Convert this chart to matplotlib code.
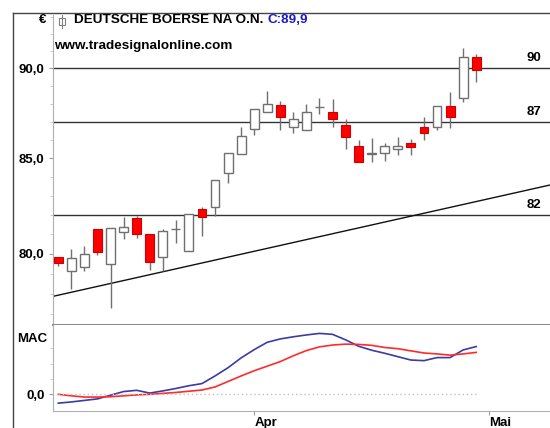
import matplotlib.pyplot as plt
from matplotlib.patches import Rectangle
from matplotlib.lines import Line2D
from matplotlib.ticker import FixedLocator, NullFormatter

plt.rcParams['font.family'] = ['Liberation Sans', 'DejaVu Sans']

# Daily candles, 13 Mar - 28 Apr 2017 (index = trading day)
days = list(range(33))
opens = [79.82, 79.14, 79.35, 81.25, 79.50, 81.11, 81.82, 80.99, 79.85, 81.27, 80.16,
         82.31, 82.40, 84.23, 85.23, 86.60, 87.52, 87.93, 86.72, 86.54, 87.83, 87.55,
         86.82, 85.68, 85.23, 85.27, 85.50, 85.81, 86.69, 86.69, 87.87, 88.30, 90.67]
highs = [79.85, 80.22, 80.39, 81.27, 81.30, 81.91, 81.94, 80.99, 81.25, 81.73, 82.03,
         82.42, 83.84, 85.27, 86.72, 87.72, 88.71, 88.17, 87.55, 87.97, 88.30, 88.26,
         87.13, 85.99, 86.09, 85.81, 86.17, 86.03, 87.28, 87.87, 88.64, 91.19, 90.84]
lows = [79.38, 78.22, 79.13, 79.93, 77.27, 80.74, 80.82, 79.18, 79.13, 80.53, 80.16,
        80.91, 81.94, 83.69, 85.23, 86.27, 87.52, 86.54, 86.39, 86.54, 87.41, 86.69,
        85.49, 84.82, 84.82, 84.85, 85.18, 85.18, 85.99, 86.54, 86.64, 88.11, 89.24]
closes = [79.52, 79.77, 79.97, 80.10, 81.30, 81.36, 81.01, 79.57, 81.16, 81.27, 82.03,
          81.91, 83.84, 85.27, 86.21, 87.72, 87.98, 87.24, 87.15, 87.55, 87.83, 87.13,
          86.14, 84.82, 85.30, 85.67, 85.67, 85.60, 86.36, 87.87, 87.28, 90.67, 89.90]

# MAC indicator (MACD line and signal line)
macd = [-0.29, -0.25, -0.20, -0.15, -0.03, 0.09, 0.13, 0.04, 0.11, 0.19, 0.28,
        0.35, 0.60, 0.87, 1.19, 1.46, 1.70, 1.81, 1.88, 1.94, 1.99, 1.96,
        1.78, 1.57, 1.44, 1.34, 1.23, 1.12, 1.10, 1.20, 1.20, 1.45, 1.56]
signal = [0.00, -0.05, -0.09, -0.09, -0.08, -0.05, -0.02, 0.00, 0.03, 0.06, 0.10,
          0.14, 0.24, 0.42, 0.60, 0.77, 0.92, 1.07, 1.26, 1.43, 1.55, 1.61,
          1.64, 1.63, 1.60, 1.53, 1.49, 1.42, 1.35, 1.32, 1.28, 1.32, 1.37]

# horizontal levels and trend line
levels = [90, 87, 82]
trend_x = [-0.5, 37.65]
trend_y = [77.85, 83.57]

month_ticks = [15, 33]
month_labels = ['Apr', 'Mai']

W, H = 550, 428
fig = plt.figure(figsize=(5.5, 4.28), dpi=100)
ax = fig.add_axes([53 / W, (H - 325) / H, (W - 53) / W, 310 / H])
ax2 = fig.add_axes([53 / W, (H - 411) / H, (W - 53) / W, 86 / H])

grey = '#9a9a9a'

# candles
for i in days:
    o, h, l, c = opens[i], highs[i], lows[i], closes[i]
    ax.vlines(i, l, h, color='#707070', lw=1, zorder=2)
    if c < o:
        ax.bar(i, o - c, bottom=c, width=0.68, color='#ff0000', edgecolor='#d00000', lw=0.8, zorder=3)
    else:
        ax.bar(i, c - o, bottom=o, width=0.68, color='white', edgecolor='#707070', lw=1, zorder=3)

for lv in levels:
    ax.axhline(lv, color='#333333', lw=1, zorder=1)
    ax.annotate(str(lv), xy=(0.982, lv), xycoords=('axes fraction', 'data'),
                xytext=(0, 3), textcoords='offset points', ha='right', va='bottom',
                fontsize=9.5, fontweight='bold')

ax.plot(trend_x, trend_y, color='#111111', lw=1.0, zorder=1)

ax.set_yscale('log')
ax.set_ylim(76.46, 93.10)
ax.set_xlim(-0.406, 37.65)
ax.yaxis.set_major_locator(FixedLocator([80, 85, 90]))
ax.yaxis.set_major_formatter(plt.FixedFormatter(['80,0', '85,0', '90,0']))
ax.yaxis.set_minor_locator(FixedLocator(list(range(77, 94))))
ax.yaxis.set_minor_formatter(NullFormatter())
ax.tick_params(axis='y', which='major', length=3, pad=3, color=grey, labelsize=9.5)
ax.tick_params(axis='y', which='minor', length=2, color='#c0c0c0')
for lab in ax.get_yticklabels():
    lab.set_fontweight('bold')
ax.set_xticks([])
for s in ['top', 'right']:
    ax.spines[s].set_visible(False)
ax.spines['left'].set_color('#b0b0b0')
ax.spines['bottom'].set_color('#8c8c8c')
ax.spines['bottom'].set_linewidth(1.5)

# MAC panel
ax2.plot(days, macd, color='#3a3aa8', lw=1.2)
ax2.plot(days, signal, color='#ff2a2a', lw=1.2)
ax2.hlines(0, days[0], days[-1], colors='#c0c0c0', linestyles=(0, (1, 2)), lw=1)
ax2.set_xlim(-0.406, 37.65)
ax2.set_ylim(-0.546, 2.265)
ax2.set_yticks([0])
ax2.set_yticklabels(['0,0'], fontweight='bold', fontsize=9.5)
ax2.yaxis.set_minor_locator(FixedLocator([0.5, 1.0, 1.5]))
ax2.tick_params(axis='y', which='major', length=3, pad=3, color=grey)
ax2.tick_params(axis='y', which='minor', length=2, color='#c0c0c0')
ax2.set_xticks(month_ticks)
ax2.set_xticklabels(month_labels, fontweight='bold', fontsize=9.5, ha='left')
ax2.tick_params(axis='x', length=3, pad=1, color=grey)
for s in ['top', 'right']:
    ax2.spines[s].set_visible(False)
ax2.spines['left'].set_color('#b0b0b0')
ax2.spines['bottom'].set_color('#b0b0b0')

# header
fig.text(46 / W, 1 - 20 / H, '€', ha='right', va='center', fontsize=9.5, fontweight='bold')
fig.text(47 / W, 1 - 339 / H, 'MAC', ha='right', va='center', fontsize=9.5, fontweight='bold')
t1 = fig.text(74 / W, 1 - 20 / H, 'DEUTSCHE BOERSE NA O.N. ', ha='left', va='center',
              fontsize=9.7, fontweight='bold')
ax.annotate('C:' + f'{closes[-1]:.1f}'.replace('.', ','), xy=(1, 0.5), xycoords=t1,
            va='center', ha='left', fontsize=9.7, fontweight='bold', color='#1a1acc',
            annotation_clip=False)
fig.text(54 / W, 1 - 46 / H, 'www.tradesignalonline.com', ha='left', va='center',
         fontsize=9.7, fontweight='bold')

# small candle icon in the legend
fig.add_artist(Line2D([62 / W, 62 / W], [1 - 15 / H, 1 - 28 / H], color='#808080', lw=0.8))
fig.add_artist(Rectangle((59 / W, 1 - 25 / H), 6 / W, 7 / H, facecolor='white',
                         edgecolor='#808080', lw=0.8))

# outer frame
fig.add_artist(Line2D([13 / W, 13 / W], [0, 1 - 13 / H], color='#444444', lw=1))
fig.add_artist(Line2D([13 / W, 1], [1 - 13 / H, 1 - 13 / H], color='#444444', lw=1))

fig.savefig('out.png', dpi=100)
